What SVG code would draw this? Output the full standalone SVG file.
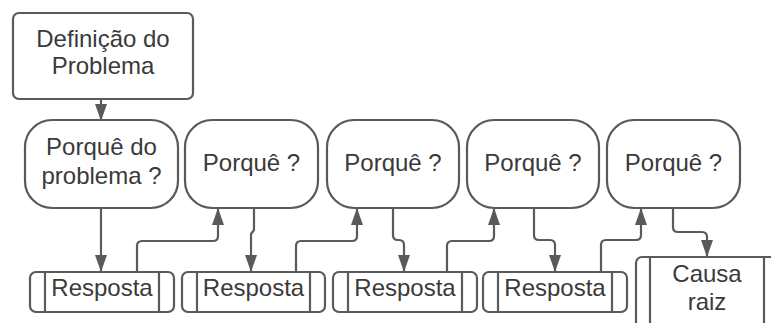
<svg xmlns="http://www.w3.org/2000/svg" width="771" height="323" viewBox="0 0 771 323">
  <defs>
    <style>
      .box { fill: #ffffff; stroke: #5a5a5a; stroke-width: 2.2; }
      .bar { fill: none; stroke: #5a5a5a; stroke-width: 2.2; }
      .lbl { font-family: "Liberation Sans", Arial, sans-serif; font-size: 24px; fill: #3a3a3a; text-anchor: middle; }
      .edge { fill: none; stroke: #5a5a5a; stroke-width: 2.2; stroke-linejoin: round; marker-end: url(#arrow); }
    </style>
    <marker id="arrow" viewBox="0 0 17 12" refX="16" refY="6" markerWidth="17" markerHeight="12" markerUnits="userSpaceOnUse" orient="auto">
      <path d="M0,0 L17,6 L0,12 Z" fill="#5a5a5a"/>
    </marker>
  </defs>
  <rect width="771" height="323" fill="#ffffff"/>

  <!-- connectors -->
  <g id="connectors">
    <path class="edge" d="M101,100 V120"/>
    <path class="edge" d="M101,208 V271"/>
    <path class="edge" d="M137,272 V246 Q137,241 142,241 H213 Q218,241 218,236 V209"/>
    <path class="edge" d="M254,208 V230 L251,234 V271"/>
    <path class="edge" d="M296,272 V246 Q296,241 301,241 H352 Q357,241 357,236 V209"/>
    <path class="edge" d="M393,208 V235 Q393,240 398,240 H399 Q404,240 404,245 V271"/>
    <path class="edge" d="M447,272 V246 Q447,241 452,241 H489 Q494,241 494,236 V209"/>
    <path class="edge" d="M534,208 V235 Q534,240 539,240 H550 Q555,240 555,245 V271"/>
    <path class="edge" d="M601,272 V245 Q601,240 606,240 H636 Q641,240 641,235 V209"/>
    <path class="edge" d="M673,208 V227 Q673,232 678,232 H702 Q707,232 707,237 V256"/>
  </g>

  <!-- problem definition -->
  <g id="definicao">
    <rect class="box" x="13" y="13" width="180" height="86" rx="6"/>
    <text class="lbl" x="103" y="47">Definição do</text>
    <text class="lbl" x="103" y="74">Problema</text>
  </g>

  <!-- why nodes -->
  <g id="porque1">
    <rect class="box" x="25" y="120" width="153" height="88" rx="27" ry="27"/>
    <text class="lbl" x="101.5" y="155">Porquê do</text>
    <text class="lbl" x="101.5" y="184">problema ?</text>
  </g>
  <g id="porque2">
    <rect class="box" x="185" y="120" width="133" height="88" rx="27" ry="27"/>
    <text class="lbl" x="251.5" y="171">Porquê ?</text>
  </g>
  <g id="porque3">
    <rect class="box" x="327" y="120" width="132" height="88" rx="27" ry="27"/>
    <text class="lbl" x="393" y="171">Porquê ?</text>
  </g>
  <g id="porque4">
    <rect class="box" x="467" y="120" width="132" height="88" rx="27" ry="27"/>
    <text class="lbl" x="533" y="171">Porquê ?</text>
  </g>
  <g id="porque5">
    <rect class="box" x="607" y="120" width="133" height="88" rx="27" ry="27"/>
    <text class="lbl" x="673.5" y="171">Porquê ?</text>
  </g>

  <!-- answers -->
  <g id="resposta1">
    <rect class="box" x="30" y="272" width="144" height="40" rx="6"/>
    <path class="bar" d="M45,272 V312 M159,272 V312"/>
    <text class="lbl" x="102" y="296">Resposta</text>
  </g>
  <g id="resposta2">
    <rect class="box" x="182" y="272" width="143" height="40" rx="6"/>
    <path class="bar" d="M197,272 V312 M310,272 V312"/>
    <text class="lbl" x="253.5" y="296">Resposta</text>
  </g>
  <g id="resposta3">
    <rect class="box" x="333" y="272" width="144" height="40" rx="6"/>
    <path class="bar" d="M348,272 V312 M462,272 V312"/>
    <text class="lbl" x="405" y="296">Resposta</text>
  </g>
  <g id="resposta4">
    <rect class="box" x="483" y="272" width="144" height="40" rx="6"/>
    <path class="bar" d="M498,272 V312 M612,272 V312"/>
    <text class="lbl" x="555" y="296">Resposta</text>
  </g>

  <!-- root cause -->
  <g id="causa">
    <rect class="box" x="636" y="257" width="142" height="80" rx="6"/>
    <path class="bar" d="M650,257 V337 M764,257 V337"/>
    <text class="lbl" x="707" y="282">Causa</text>
    <text class="lbl" x="707" y="310">raiz</text>
  </g>
</svg>
